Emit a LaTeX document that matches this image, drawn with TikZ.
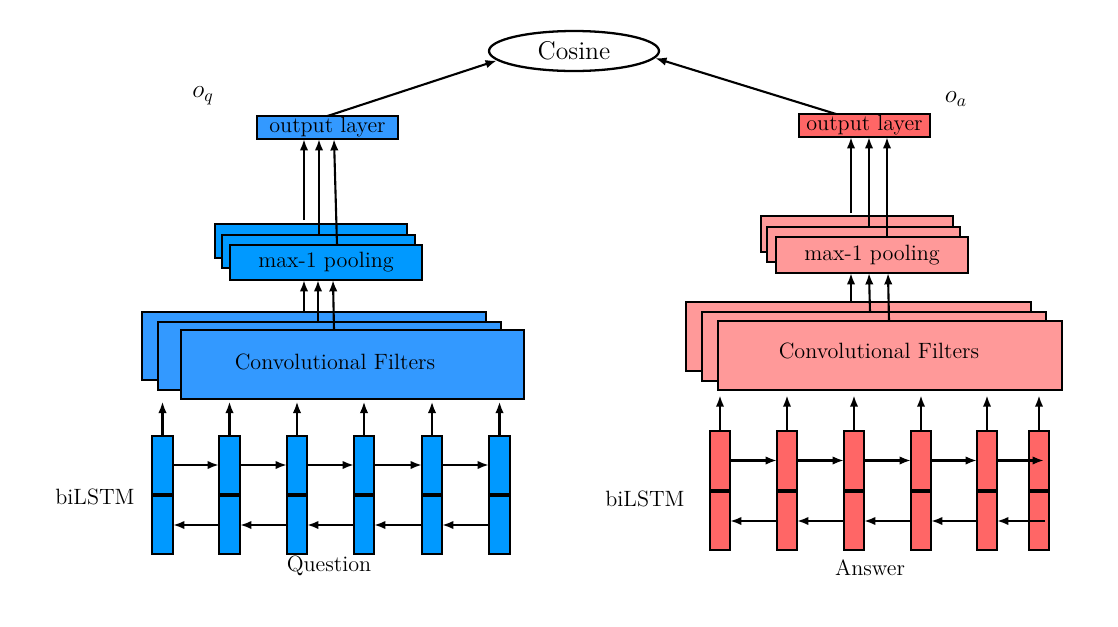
\documentclass[tikz,border=0pt]{standalone}
\usetikzlibrary{shapes.geometric,arrows.meta,calc}
\definecolor{qdark}{RGB}{51,153,255}
\definecolor{qlight}{RGB}{0,153,255}
\definecolor{adark}{RGB}{255,102,102}
\definecolor{alight}{RGB}{255,153,153}
\newcommand{\mkbox}[7]{\node[#6,minimum width={(#4-#2)*0.02cm},minimum height={(#5-#3)*0.02cm}] (#1) at ({(#2+#4)/2},{(#3+#5)/2}) {#7};}
\tikzset{
  bx/.style={draw,line width=1.3pt,inner sep=0pt,outer sep=0pt,font=\fontsize{12.6}{14}\selectfont},
  cell/.style={draw,line width=1.3pt,inner sep=0pt,outer sep=0pt},
  arr/.style={line width=1.2pt,-{Latex[length=6.5pt,width=4.8pt]}},
  lbl/.style={font=\fontsize{12.6}{14}\selectfont,inner sep=0pt}
}
\begin{document}
\begin{tikzpicture}[x=0.02cm,y=-0.02cm]
\useasboundingbox (0,0) rectangle (1118,626);
% Cosine
\node[ellipse,draw,line width=1.3pt,minimum width=3.4cm,minimum height=0.8cm,inner sep=0pt,font=\fontsize{14.6}{17}\selectfont] (cos) at (574,51) {Cosine};
% ---------- Question side ----------
\mkbox{outq}{257}{116}{398}{139}{bx,fill=qdark}{output layer}
\node[lbl,font=\fontsize{14}{16}\selectfont] (oq) at (203,96) {$o_q$};
\mkbox{poolqb}{215}{224}{407}{258}{bx,fill=qlight}{}
\mkbox{poolqm}{222}{235}{415}{268}{bx,fill=qlight}{}
\mkbox{poolqf}{230}{245}{422}{280}{bx,fill=qlight}{max-1 pooling}
\mkbox{convqb}{142}{312}{486}{380}{bx,fill=qdark}{}
\mkbox{convqm}{158}{322}{501}{390}{bx,fill=qdark}{}
\mkbox{convqf}{181}{330}{524}{399}{bx,fill=qdark}{}
\node[lbl] (convqt) at (335,362) {Convolutional Filters};
\foreach \i/\a/\b in {1/152/173,2/219/240,3/287/307,4/354/374,5/422/442,6/489/510}{
  \mkbox{qt\i}{\a}{436}{\b}{494}{cell,fill=qlight}{}
  \mkbox{qb\i}{\a}{496}{\b}{554}{cell,fill=qlight}{}
  \draw[arr,shorten >=1.5pt] (qt\i.north) -- (qt\i.north |- convqf.south);
}
\foreach \i/\j in {1/2,2/3,3/4,4/5,5/6}{
  \draw[arr] (qt\i.east) -- (qt\j.west);
  \draw[arr] (qb\j.west) -- (qb\i.east);
}
\node[lbl] (bq) at (95,497) {biLSTM};
\node[lbl] (question) at (329,566) {Question};
% conv -> pool
\draw[arr] (304,0 |- convqb.north) -- (304,0 |- poolqf.south);
\draw[arr] (318,0 |- convqm.north) -- (318,0 |- poolqf.south);
\draw[arr] (334,0 |- convqf.north) -- (333,0 |- poolqf.south);
% pool -> output
\draw[arr] (304,220) -- (304,0 |- outq.south);
\draw[arr] (319,0 |- poolqm.north) -- (319,0 |- outq.south);
\draw[arr] (337,0 |- poolqf.north) -- (334,0 |- outq.south);
\draw[arr] (outq.north) -- (cos.187);
% ---------- Answer side ----------
\mkbox{outa}{799}{114}{930}{137}{bx,fill=adark}{output layer}
\node[lbl,font=\fontsize{14}{16}\selectfont] (oa) at (956,99) {$o_a$};
\mkbox{poolab}{761}{216}{953}{252}{bx,fill=alight}{}
\mkbox{poolam}{767}{227}{960}{262}{bx,fill=alight}{}
\mkbox{poolaf}{776}{237}{968}{273}{bx,fill=alight}{max-1 pooling}
\mkbox{convab}{686}{302}{1031}{371}{bx,fill=alight}{}
\mkbox{convam}{702}{312}{1046}{381}{bx,fill=alight}{}
\mkbox{convaf}{718}{321}{1062}{390}{bx,fill=alight}{}
\node[lbl] (convat) at (879,351) {Convolutional Filters};
\foreach \i/\a/\b in {1/710/730,2/777/797,3/844/864,4/911/931,5/977/997,6/1029/1049}{
  \mkbox{at\i}{\a}{431}{\b}{490}{cell,fill=adark}{}
  \mkbox{ab\i}{\a}{492}{\b}{550}{cell,fill=adark}{}
  \draw[arr,shorten >=3pt] (at\i.north) -- (at\i.north |- convaf.south);
}
\foreach \i/\j in {1/2,2/3,3/4,4/5}{
  \draw[arr] (at\i.east) -- (at\j.west);
  \draw[arr] (ab\j.west) -- (ab\i.east);
}
\draw[arr] (at5.east) -- ([xshift=0.1cm]at6.center);
\draw[arr] ([xshift=0.12cm]ab6.center) -- (ab5.east);
\node[lbl] (ba) at (645,499) {biLSTM};
\node[lbl] (answer) at (870,568) {Answer};
% conv -> pool
\draw[arr] (851,0 |- convab.north) -- (851,0 |- poolaf.south);
\draw[arr] (870,0 |- convam.north) -- (869,0 |- poolaf.south);
\draw[arr] (889,0 |- convaf.north) -- (888,0 |- poolaf.south);
% pool -> output
\draw[arr] (851,213) -- (851,0 |- outa.south);
\draw[arr] (869,0 |- poolam.north) -- (869,0 |- outa.south);
\draw[arr] (887,0 |- poolaf.north) -- (887,0 |- outa.south);
\draw[arr] (836,0 |- outa.north) -- (cos.355);
\end{tikzpicture}
\end{document}
